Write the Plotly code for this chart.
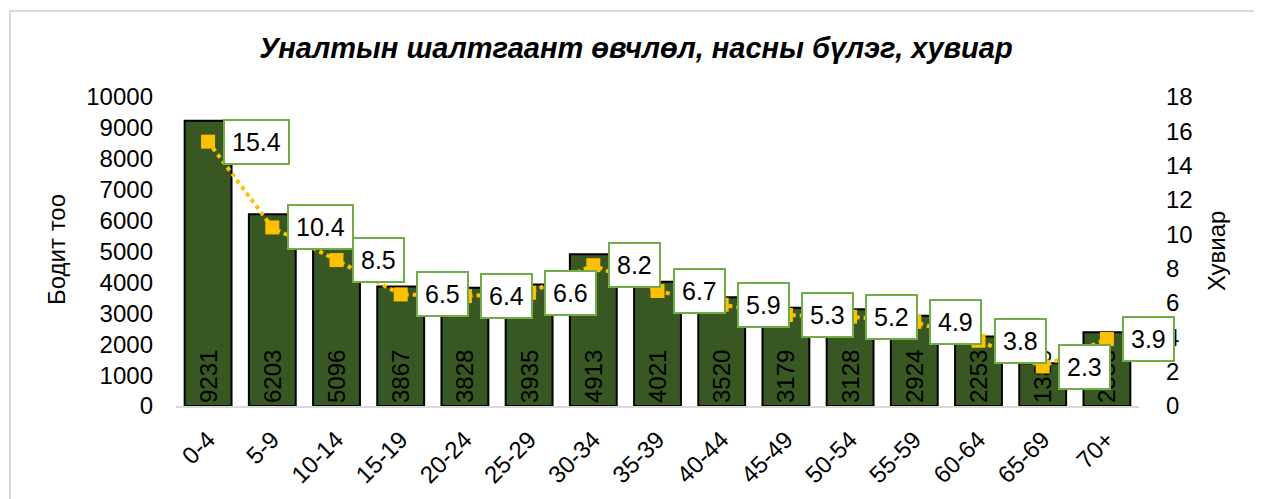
import plotly.graph_objects as go

categories = ["0-4", "5-9", "10-14", "15-19", "20-24", "25-29", "30-34", "35-39",
              "40-44", "45-49", "50-54", "55-59", "60-64", "65-69", "70+"]
counts = [9231, 6203, 5096, 3867, 3828, 3935, 4913, 4021, 3520, 3179, 3128, 2924, 2253, 1385, 2383]
percent = [15.4, 10.4, 8.5, 6.5, 6.4, 6.6, 8.2, 6.7, 5.9, 5.3, 5.2, 4.9, 3.8, 2.3, 3.9]

FONT = "Liberation Sans, Arial, sans-serif"

# page body has an 8px default margin; plot area target on screen: x 176-1139, y 97-406
OFF = 8
PL, PR, PT, PB = 176, 1139, 97, 406
W, H = 1262, 499
PW, PH = PR - PL, PB - PT

fig = go.Figure()
fig.add_trace(go.Bar(
    x=categories, y=counts, name="Бодит тоо",
    marker=dict(color="#385723", line=dict(color="#000000", width=2)),
    text=[str(v) for v in counts], textposition="inside", insidetextanchor="start",
    textangle=-90, textfont=dict(family=FONT, size=24, color="#000000"),
    constraintext="none", cliponaxis=False,
))
fig.add_trace(go.Scatter(
    x=categories, y=percent, yaxis="y2", mode="lines+markers", name="Хувиар",
    line=dict(color="#FFC000", width=4, dash="dot"),
    marker=dict(symbol="square", size=14, color="#FFC000"),
    cliponaxis=False,
))

for c, p in zip(categories, percent):
    fig.add_annotation(
        x=c, y=p, yref="y2", text=str(p), showarrow=False,
        xanchor="left", yanchor="middle", xshift=15,
        font=dict(family=FONT, size=25, color="#000000"),
        bgcolor="#FFFFFF", bordercolor="#70AD47", borderwidth=2, borderpad=7,
    )

# axis titles
fig.add_annotation(xref="paper", yref="paper", x=(56 - PL) / PW, y=(PB - 250) / PH,
                   text="Бодит тоо", textangle=-90, showarrow=False,
                   xanchor="center", yanchor="middle",
                   font=dict(family=FONT, size=24, color="#000000"))
fig.add_annotation(xref="paper", yref="paper", x=(1216 - PL) / PW, y=(PB - 251) / PH,
                   text="Хувиар", textangle=-90, showarrow=False,
                   xanchor="center", yanchor="middle",
                   font=dict(family=FONT, size=24, color="#000000"))

fig.update_layout(
    width=W, height=H,
    margin=dict(l=PL - OFF, r=W - (PR - OFF), t=PT - OFF, b=H - (PB - OFF), autoexpand=False),
    paper_bgcolor="#FFFFFF", plot_bgcolor="#FFFFFF",
    showlegend=False, bargap=0.27,
    title=dict(text="<b><i>Уналтын шалтгаант өвчлөл, насны бүлэг, хувиар</i></b>",
               x=(636 - OFF) / W, xanchor="center", y=1 - (48 - OFF) / H, yanchor="middle",
               xref="container", yref="container",
               font=dict(family=FONT, size=29, color="#000000")),
    font=dict(family=FONT, size=22, color="#000000"),
    xaxis=dict(range=[-0.5, len(categories) - 0.5], tickangle=-45, showgrid=False,
               showline=True, linecolor="#D9D9D9", linewidth=2, ticks="",
               tickfont=dict(size=24), automargin=False, ticklabelstandoff=8),
    yaxis=dict(range=[0, 10000], dtick=1000, showgrid=False, zeroline=False,
               tickfont=dict(size=24), automargin=False, ticklabelstandoff=22,
               tickformat="d"),
    yaxis2=dict(range=[0, 18], dtick=2, overlaying="y", side="right",
                showgrid=False, zeroline=False, automargin=False,
                tickfont=dict(size=24), ticklabelstandoff=26),
    shapes=[dict(type="rect", xref="paper", yref="paper",
                 x0=(10 - PL) / PW, x1=(1256 - PL) / PW,
                 y0=(PB - 530) / PH, y1=(PB - 11) / PH,
                 line=dict(color="#D9D9D9", width=2), fillcolor="rgba(0,0,0,0)",
                 layer="below")],
)

fig.write_html("out.html")
